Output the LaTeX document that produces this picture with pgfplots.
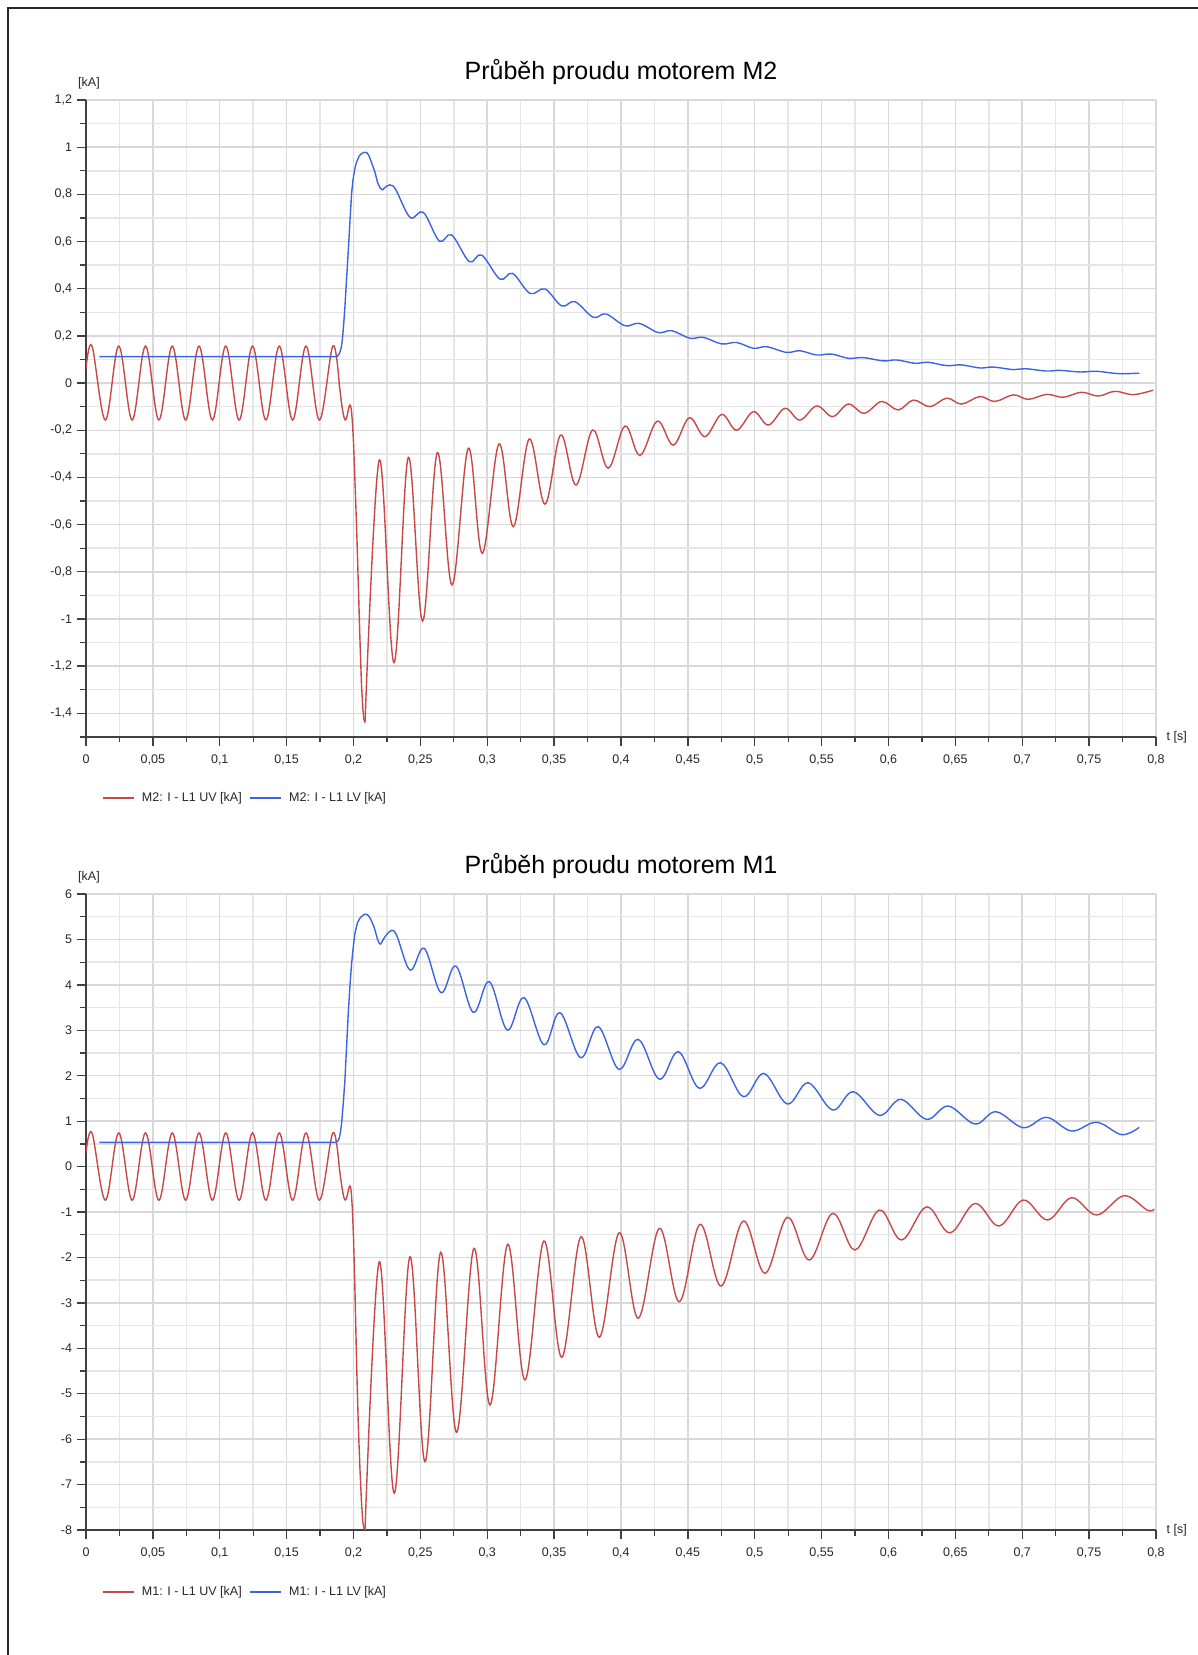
\documentclass[border=0pt]{standalone}
\usepackage{pgfplots}
\pgfplotsset{compat=1.18}
\usepackage{fontspec}
\setmainfont{Liberation Sans}
\definecolor{cRed}{RGB}{200,72,72}
\definecolor{cBlue}{RGB}{60,100,225}
\definecolor{gMaj}{RGB}{216,216,216}
\definecolor{gMin}{RGB}{230,230,230}
\definecolor{axC}{RGB}{64,64,64}
\newcommand\lbl{\fontsize{12.5}{15}\selectfont}
\pgfplotsset{
  base/.style={
    scale only axis, width=1070pt,
    xmin=0, xmax=0.8, enlargelimits=false,
    axis x line=bottom, axis y line=left,
    axis line style={-, axC, line width=1.6pt},
    tick align=outside,
    major tick length=9pt, minor tick length=5.5pt,
    tick style={axC, line width=1.3pt},
    xtick={0,0.05,0.1,0.15,0.2,0.25,0.3,0.35,0.4,0.45,0.5,0.55,0.6,0.65,0.7,0.75,0.8},
    xticklabels={0,{0,05},{0,1},{0,15},{0,2},{0,25},{0,3},{0,35},{0,4},{0,45},{0,5},{0,55},{0,6},{0,65},{0,7},{0,75},{0,8}},
    minor xtick={0.025,0.075,0.125,0.175,0.225,0.275,0.325,0.375,0.425,0.475,0.525,0.575,0.625,0.675,0.725,0.775},
    grid=both,
    major grid style={gMaj, line width=1.5pt},
    minor grid style={gMin, line width=1.5pt},
    tick label style={font=\lbl, text=black!85},
    xticklabel style={yshift=-5pt},
    yticklabel style={xshift=-1.5pt},
    title style={at={(0.5,1)}, anchor=base, yshift=15pt, font=\fontsize{25}{30}\selectfont, text=black},
    legend style={anchor=west, draw=none, fill=none, inner sep=0pt, outer sep=0pt,
      legend columns=2, font=\lbl, text=black!85, column sep=5.5pt},
    legend image code/.code={\draw[#1, line width=1.4pt] (0pt,0pt) -- (31pt,0pt);},
    extra description/.code={
      \node[anchor=base west, font=\lbl, inner sep=0pt, text=black!85] at ([xshift=-8pt,yshift=14pt]0,1) {[kA]};
      \node[anchor=west, font=\lbl, inner sep=0pt, text=black!85] at ([xshift=10.5pt]1,0) {t [s]};
    },
  },
  rl/.style={cRed, line width=1.4pt},
  bl/.style={cBlue, line width=1.4pt},
}
\begin{document}
\begin{tikzpicture}
\path[use as bounding box] (0,0) rectangle (1198pt,-1655pt);
\draw[line width=2pt, black!85] (8pt,-1720pt) -- (8pt,-8pt) -- (1260pt,-8pt);

% ---------------- M2 ----------------
\begin{axis}[base, at={(86pt,-736.9pt)}, anchor=south west, height=636.9pt,
  ymin=-1.5, ymax=1.2,
  ytick={-1.4,-1.2,-1,-0.8,-0.6,-0.4,-0.2,0,0.2,0.4,0.6,0.8,1,1.2},
  yticklabels={{-1,4},{-1,2},-1,{-0,8},{-0,6},{-0,4},{-0,2},0,{0,2},{0,4},{0,6},{0,8},1,{1,2}},
  minor ytick={-1.5,-1.3,-1.1,-0.9,-0.7,-0.5,-0.3,-0.1,0.1,0.3,0.5,0.7,0.9,1.1},
  title={Průběh proudu motorem M2},
  legend style={at={(axis description cs:0.015,-0.096)}},
]
% red, pre-fault
\addplot[rl, smooth, tension=0.6] coordinates {
(0,0.06) (0.0045,0.157) (0.0145,-0.157) (0.0245,0.157) (0.0345,-0.157) (0.0445,0.157) (0.0545,-0.157)
(0.0645,0.157) (0.0745,-0.157) (0.0845,0.157) (0.0945,-0.157) (0.1045,0.157) (0.1145,-0.157)
(0.1245,0.157) (0.1345,-0.157) (0.1445,0.157) (0.1545,-0.157) (0.1645,0.157) (0.1745,-0.157)
(0.1845,0.157) (0.1893,0)};
\addlegendentry{M2: I - L1 UV [kA]}
% blue, flat + rise
\addplot[bl] coordinates {
(0.0100,0.112) (0.1870,0.112) (0.1882,0.115) (0.1893,0.123) (0.1903,0.138) (0.1912,0.162) (0.1919,0.197)
(0.1928,0.26) (0.1936,0.324) (0.1945,0.41) (0.1954,0.493) (0.1964,0.59) (0.1974,0.691) (0.1986,0.8045)
(0.1995,0.855) (0.2004,0.889) (0.2014,0.918) (0.2024,0.938) (0.2042,0.962) (0.2061,0.973) (0.2080,0.978)
(0.2099,0.977) (0.2115,0.965) (0.2135,0.935) (0.2160,0.895) (0.2180,0.850) (0.2200,0.826) (0.2218,0.8185)};
\addlegendentry{M2: I - L1 LV [kA]}
% red, fault transient
\addplot[rl, forget plot] coordinates {
(0.1893,0) (0.1903,-0.05) (0.1913,-0.095) (0.1922,-0.127) (0.1930,-0.147) (0.1938,-0.156) (0.1946,-0.152)
(0.1954,-0.135) (0.1962,-0.112) (0.1968,-0.098) (0.1973,-0.093) (0.1979,-0.097) (0.1985,-0.118)
(0.1992,-0.165) (0.2000,-0.25) (0.2010,-0.40) (0.2024,-0.623) (0.2036,-0.85) (0.2049,-1.10)
(0.2060,-1.28) (0.2070,-1.38) (0.2078,-1.425) (0.2086,-1.439)};
% red, decay
\addplot[rl, smooth, tension=0.6, forget plot] coordinates {
(0.2086,-1.439) (0.2193,-0.326) (0.2303,-1.185) (0.2410,-0.315) (0.2517,-1.009) (0.2627,-0.295)
(0.2737,-0.856) (0.2859,-0.276) (0.2963,-0.722) (0.3088,-0.258) (0.3195,-0.609) (0.3314,-0.237)
(0.3432,-0.513) (0.3549,-0.220) (0.3664,-0.432) (0.3788,-0.199) (0.3905,-0.361) (0.4030,-0.182)
(0.4142,-0.307) (0.4272,-0.161) (0.4391,-0.263) (0.4511,-0.147) (0.4628,-0.227) (0.4753,-0.133)
(0.4865,-0.200) (0.4990,-0.121) (0.5102,-0.178) (0.5226,-0.107) (0.5338,-0.157) (0.5463,-0.097)
(0.5582,-0.142) (0.5700,-0.089) (0.5819,-0.128) (0.5949,-0.078) (0.6073,-0.114) (0.6186,-0.072)
(0.6310,-0.100) (0.6435,-0.064) (0.6547,-0.089) (0.6684,-0.057) (0.6796,-0.078) (0.6934,-0.050)
(0.7045,-0.069) (0.7183,-0.048) (0.7307,-0.060) (0.7444,-0.039) (0.7569,-0.055) (0.7693,-0.035)
(0.7830,-0.049) (0.7980,-0.030)};
% blue, decay
\addplot[bl, smooth, tension=0.6, forget plot] coordinates {
(0.2218,0.8185) (0.2298,0.835) (0.2422,0.703) (0.2522,0.724) (0.2642,0.602) (0.2734,0.628)
(0.2866,0.515) (0.2958,0.543) (0.3095,0.441) (0.3190,0.465) (0.3320,0.380) (0.3432,0.399)
(0.3557,0.327) (0.3656,0.345) (0.3793,0.279) (0.3888,0.293) (0.4030,0.243) (0.4137,0.253)
(0.4279,0.214) (0.4379,0.222) (0.4516,0.190) (0.4615,0.194) (0.4753,0.166) (0.4865,0.172)
(0.4990,0.1475) (0.5090,0.154) (0.5238,0.130) (0.5338,0.137) (0.5463,0.119) (0.5575,0.123)
(0.5700,0.105) (0.5812,0.108) (0.5961,0.094) (0.6061,0.098) (0.6198,0.084) (0.6298,0.088)
(0.6435,0.074) (0.6547,0.077) (0.6684,0.064) (0.6784,0.068) (0.6934,0.057) (0.7020,0.061)
(0.7183,0.051) (0.7282,0.054) (0.7432,0.047) (0.7557,0.050) (0.7719,0.040) (0.7875,0.042)};
\end{axis}

% ---------------- M1 ----------------
\begin{axis}[base, at={(86pt,-1530pt)}, anchor=south west, height=636pt,
  ymin=-8, ymax=6,
  ytick={-8,-7,-6,-5,-4,-3,-2,-1,0,1,2,3,4,5,6},
  yticklabels={-8,-7,-6,-5,-4,-3,-2,-1,0,1,2,3,4,5,6},
  minor ytick={-7.5,-6.5,-5.5,-4.5,-3.5,-2.5,-1.5,-0.5,0.5,1.5,2.5,3.5,4.5,5.5},
  title={Průběh proudu motorem M1},
  legend style={at={(axis description cs:0.015,-0.0975)}},
]
\addplot[rl, smooth, tension=0.6] coordinates {
(0,0.30) (0.0045,0.74) (0.0145,-0.74) (0.0245,0.74) (0.0345,-0.74) (0.0445,0.74) (0.0545,-0.74)
(0.0645,0.74) (0.0745,-0.74) (0.0845,0.74) (0.0945,-0.74) (0.1045,0.74) (0.1145,-0.74)
(0.1245,0.74) (0.1345,-0.74) (0.1445,0.74) (0.1545,-0.74) (0.1645,0.74) (0.1745,-0.74)
(0.1845,0.74) (0.1893,0)};
\addlegendentry{M1: I - L1 UV [kA]}
\addplot[bl] coordinates {
(0.0100,0.534) (0.1870,0.534) (0.1882,0.56) (0.1893,0.62) (0.1902,0.75) (0.1911,0.952) (0.1924,1.40)
(0.1936,1.906) (0.1948,2.62) (0.1961,3.374) (0.1974,4.00) (0.1986,4.475) (0.1999,4.85) (0.2011,5.134)
(0.2030,5.37) (0.2049,5.47) (0.2070,5.53) (0.2085,5.553) (0.2099,5.553) (0.2113,5.52) (0.2128,5.45)
(0.2140,5.37) (0.2153,5.28) (0.2167,5.14) (0.2180,5.00) (0.2192,4.92) (0.2203,4.892)};
\addlegendentry{M1: I - L1 LV [kA]}
\addplot[rl, forget plot] coordinates {
(0.1893,0) (0.1903,-0.23) (0.1913,-0.44) (0.1922,-0.60) (0.1930,-0.70) (0.1938,-0.736) (0.1946,-0.71)
(0.1954,-0.63) (0.1962,-0.52) (0.1968,-0.45) (0.1973,-0.427) (0.1979,-0.46) (0.1985,-0.62)
(0.1992,-0.95) (0.2000,-1.55) (0.2010,-2.6) (0.2024,-4.405) (0.2036,-5.7) (0.2049,-6.7)
(0.2060,-7.4) (0.2069,-7.8) (0.2078,-7.96) (0.2086,-8.0)};
\addplot[rl, smooth, tension=0.6, forget plot] coordinates {
(0.2086,-8.0) (0.2193,-2.094) (0.2305,-7.19) (0.2422,-1.984) (0.2535,-6.496) (0.2652,-1.888)
(0.2771,-5.85) (0.2901,-1.80) (0.3021,-5.248) (0.3153,-1.711) (0.3282,-4.698) (0.3424,-1.638)
(0.3557,-4.20) (0.3701,-1.543) (0.3838,-3.758) (0.3987,-1.455) (0.4129,-3.34) (0.4287,-1.359)
(0.4436,-2.974) (0.4591,-1.271) (0.4748,-2.629) (0.4915,-1.198) (0.5077,-2.349) (0.5244,-1.117)
(0.5408,-2.056) (0.5583,-1.030) (0.5750,-1.836) (0.5932,-0.956) (0.6098,-1.616) (0.6285,-0.886)
(0.6460,-1.459) (0.6647,-0.811) (0.6826,-1.308) (0.7008,-0.736) (0.7190,-1.176) (0.7369,-0.685)
(0.7557,-1.066) (0.7761,-0.641) (0.7935,-0.958) (0.7985,-0.935)};
\addplot[bl, smooth, tension=0.6, forget plot] coordinates {
(0.2203,4.892) (0.2303,5.186) (0.2422,4.327) (0.2529,4.804) (0.2654,3.828) (0.2766,4.415)
(0.2896,3.395) (0.3016,4.070) (0.3150,3.006) (0.3275,3.718) (0.3424,2.683) (0.3544,3.388)
(0.3698,2.398) (0.3830,3.080) (0.3985,2.141) (0.4129,2.801) (0.4287,1.921) (0.4429,2.530)
(0.4586,1.723) (0.4745,2.286) (0.4915,1.539) (0.5069,2.051) (0.5244,1.377) (0.5400,1.846)
(0.5583,1.245) (0.5737,1.648) (0.5932,1.128) (0.6093,1.480) (0.6285,1.040) (0.6447,1.333)
(0.6647,0.937) (0.6804,1.208) (0.7008,0.856) (0.7183,1.084) (0.7369,0.783) (0.7557,0.975)
(0.7744,0.703) (0.7875,0.864)};
\end{axis}
\end{tikzpicture}
\end{document}
